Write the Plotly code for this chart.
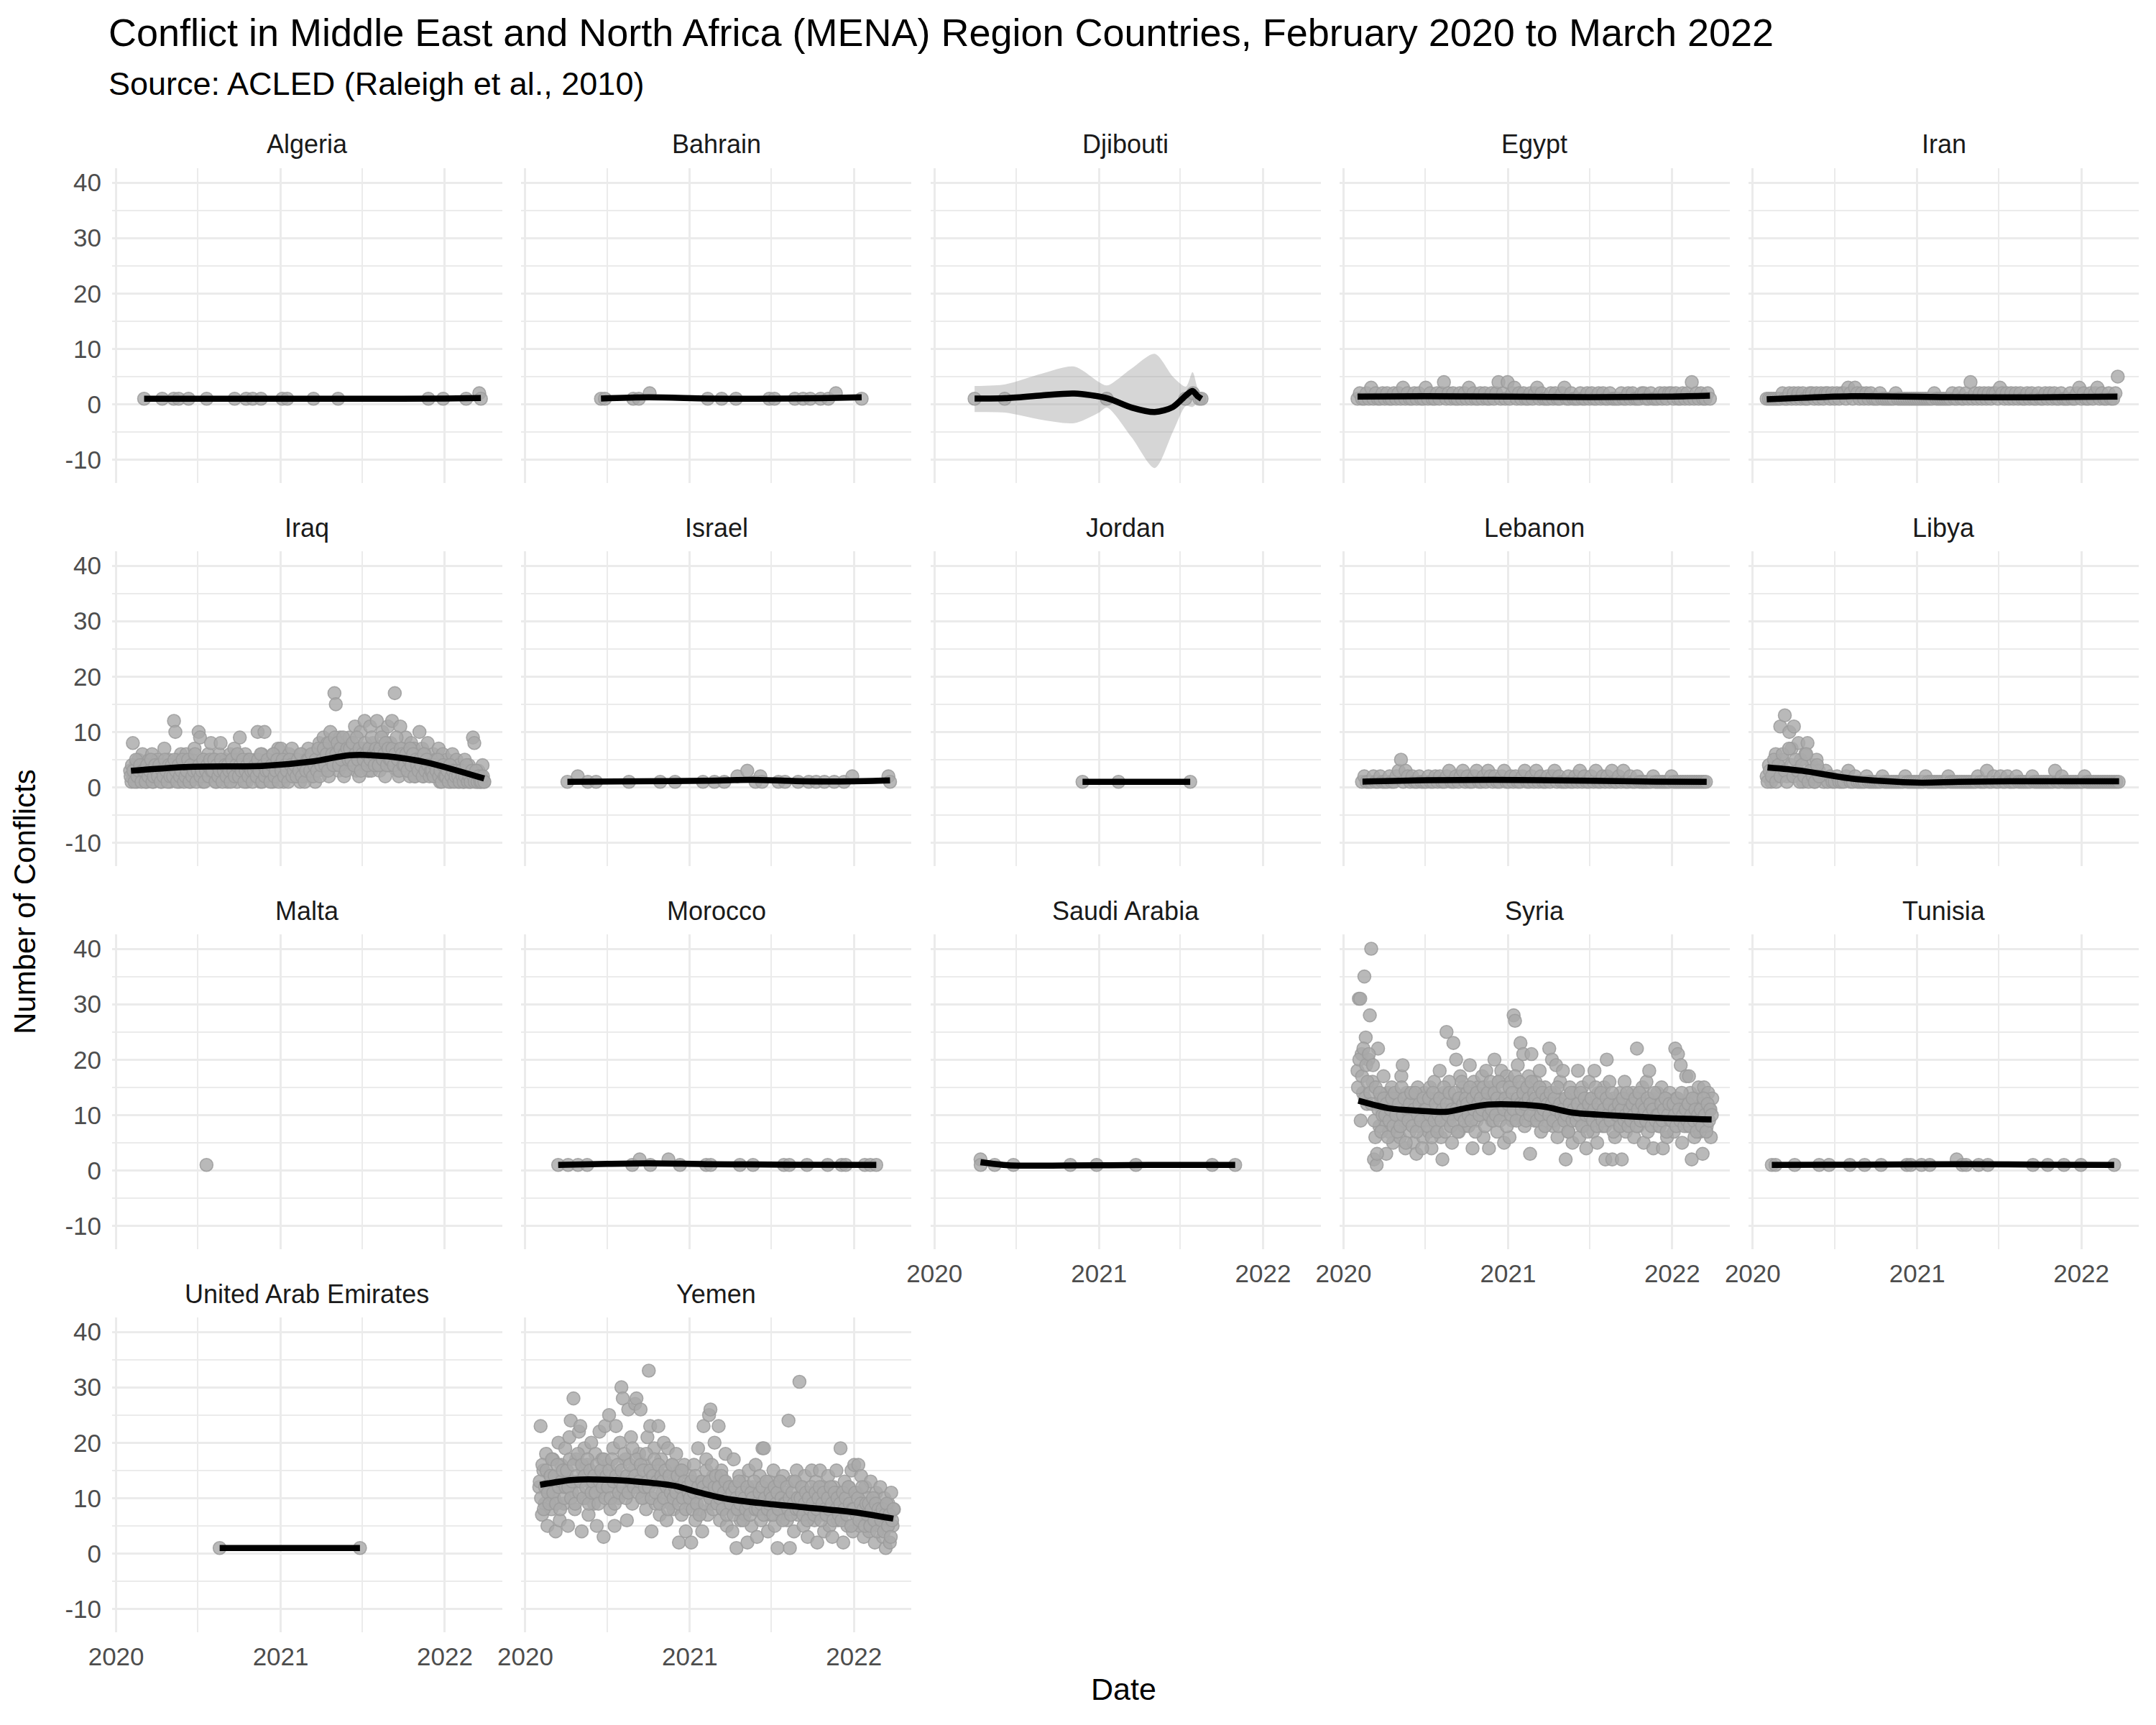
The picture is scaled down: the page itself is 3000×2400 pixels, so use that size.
import pandas as pd
import plotly.graph_objects as go

# ---------------------------------------------------------------- data
COUNTRIES = ["Algeria", "Bahrain", "Djibouti", "Egypt", "Iran", "Iraq", "Israel",
             "Jordan", "Lebanon", "Libya", "Malta", "Morocco", "Saudi Arabia",
             "Syria", "Tunisia", "United Arab Emirates", "Yemen"]

# sparse countries: event dates (decimal years) and daily counts
ALGERIA_T = [2020.17, 2020.28, 2020.35, 2020.38, 2020.44, 2020.55, 2020.72, 2020.79, 2020.83,
             2020.88, 2021.01, 2021.04, 2021.20, 2021.35, 2021.90, 2021.99, 2022.13, 2022.21, 2022.22]
ALGERIA_N = [1, 1, 1, 1, 1, 1, 1, 1, 1, 1, 1, 1, 1, 1, 1, 1, 1, 2, 1]

BAHRAIN_T = [2020.46, 2020.484, 2020.656, 2020.69, 2020.756, 2021.109, 2021.194, 2021.281, 2021.484,
             2021.516, 2021.64, 2021.69, 2021.734, 2021.797, 2021.844, 2021.89, 2022.047]
BAHRAIN_N = [1, 1, 1, 1, 2, 1, 1, 1, 1, 1, 1, 1, 1, 1, 1, 2, 1]

DJIBOUTI_T = [2020.244, 2020.427, 2021.047, 2021.526, 2021.573, 2021.612, 2021.625]
DJIBOUTI_N = [1, 1, 1, 1, 2, 1, 1]

ISRAEL_T = [2020.256, 2020.319, 2020.38, 2020.43, 2020.63, 2020.82, 2020.91, 2021.08, 2021.15,
            2021.21, 2021.29, 2021.35, 2021.40, 2021.43, 2021.44, 2021.54, 2021.58, 2021.66,
            2021.725, 2021.77, 2021.82, 2021.88, 2021.94, 2021.99, 2022.21, 2022.22]
ISRAEL_N = [1, 2, 1, 1, 1, 1, 1, 1, 1, 1, 2, 3, 1, 2, 1, 1, 1, 1, 1, 1, 1, 1, 1, 2, 2, 1]

JORDAN_T = [2020.90, 2021.119, 2021.556]
JORDAN_N = [1, 1, 1]

MALTA_T = [2020.549]
MALTA_N = [1]

MOROCCO_T = [2020.20, 2020.26, 2020.32, 2020.376, 2020.65, 2020.695, 2020.76, 2020.87, 2020.94,
             2021.10, 2021.127, 2021.305, 2021.385, 2021.573, 2021.606, 2021.714, 2021.84,
             2021.925, 2021.95, 2022.066, 2022.10, 2022.136]
MOROCCO_N = [1, 1, 1, 1, 1, 2, 1, 2, 1, 1, 1, 1, 1, 1, 1, 1, 1, 1, 1, 1, 1, 1]

SAUDI_T = [2020.28, 2020.281, 2020.366, 2020.48, 2020.826, 2020.986, 2021.225, 2021.69, 2021.83]
SAUDI_N = [2, 1, 1, 1, 1, 1, 1, 1, 1]

TUNISIA_T = [2020.116, 2020.139, 2020.255, 2020.404, 2020.464, 2020.59, 2020.68, 2020.78, 2020.937,
             2020.96, 2021.026, 2021.076, 2021.24, 2021.275, 2021.298, 2021.374, 2021.43, 2021.705,
             2021.795, 2021.894, 2021.997, 2022.20]
TUNISIA_N = [1, 1, 1, 1, 1, 1, 1, 1, 1, 1, 1, 1, 2, 1, 1, 1, 1, 1, 1, 1, 1, 1]

UAE_T = [2020.629, 2021.483]
UAE_N = [1, 1]

# dense countries: regularly sampled daily counts between a first and last date
EGYPT_SPAN = ["2020-02-01", "2022-03-26"]
EGYPT_N = [1, 2, 1, 1, 2, 1,  3, 1, 2, 1, 1, 2,  1, 2, 1, 1, 2, 1,  2, 1, 3, 1, 2, 1,
           1, 2, 1, 2, 1, 1,  3, 1, 2, 1, 1, 2,  1, 2, 4, 1, 2, 1,  2, 1, 1, 2, 1, 2,
           1, 3, 1, 2, 1, 1,  2, 1, 2, 1, 1, 2,  1, 2, 4, 1, 2, 1,  4, 1, 2, 3, 1, 2,
           1, 2, 1, 1, 2, 1,  2, 3, 1, 2, 1, 1,  1, 2, 1, 2, 1, 1,  2, 3, 1, 1, 2, 1,
           1, 1, 2, 1, 1, 2,  1, 2, 1, 1, 2, 1,  2, 1, 1, 2, 1, 1,  1, 1, 2, 1, 1, 2,
           1, 2, 1, 1, 1, 2,  2, 1, 1, 2, 1, 1,  1, 2, 1, 2, 1, 2,  2, 1, 2, 1, 1, 2,
           1, 2, 1, 4, 1, 2,  1, 2, 1, 1, 2, 1]

IRAN_SPAN = ["2020-02-01", "2022-03-23"]
IRAN_N = [1, 1, 1, 1, 1, 1,  1, 2, 1, 1, 2, 1,  2, 1, 2, 1, 2, 1,  1, 2, 2, 1, 2, 1,
          2, 1, 2, 2, 1, 2,  1, 2, 1, 2, 2, 1,  3, 2, 1, 3, 2, 1,  2, 1, 2, 1, 2, 1,
          1, 1, 2, 1, 1, 1,  1, 1, 1, 2, 1, 1,  1, 1, 1, 1, 1, 1,  1, 1, 1, 1, 1, 1,
          1, 1, 2, 1, 1, 1,  1, 1, 1, 1, 2, 1,  1, 2, 1, 1, 2, 1,  4, 1, 2, 1, 2, 1,
          2, 1, 2, 1, 2, 2,  1, 3, 2, 1, 2, 1,  2, 1, 2, 1, 2, 1,  1, 2, 1, 2, 1, 1,
          2, 1, 1, 2, 1, 2,  1, 2, 1, 1, 2, 1,  1, 1, 2, 1, 1, 2,  3, 1, 2, 1, 1, 2,
          1, 2, 3, 1, 2, 1,  1, 2, 1, 1, 2, 5]

LEBANON_SPAN = ["2020-02-11", "2022-03-17"]
LEBANON_N = [1, 2, 1, 1,  1, 2, 1, 1, 2, 1,  1, 1, 2, 1, 1, 2,  3, 5, 1, 3, 2, 1,
             2, 1, 1, 2, 1, 1,  1, 2, 1, 1, 2, 1,  2, 1, 1, 2, 3, 1,  1, 2, 1, 2, 3, 1,
             2, 1, 1, 2, 3, 1,  1, 2, 1, 3, 2, 1,  2, 1, 1, 2, 3, 1,  1, 2, 1, 2, 1, 1,
             2, 3, 1, 1, 2, 1,  3, 1, 2, 1, 1, 2,  1, 2, 3, 1, 2, 1,  1, 1, 2, 1, 1, 2,
             1, 3, 1, 2, 1, 1,  2, 1, 3, 1, 1, 2,  1, 2, 1, 3, 1, 1,  2, 1, 3, 1, 1, 2,
             1, 1, 2, 1, 1, 1,  1, 1, 1, 2, 1, 1,  1, 1, 1, 1, 1, 2,  1, 1, 1, 1, 1, 1,
             1, 1, 1, 1, 1, 1,  1, 1, 1]

LIBYA_SPAN = ["2020-02-01", "2022-03-25"]
LIBYA_N = [2, 4, 1, 3, 6, 2,  11, 5, 13, 2, 10, 7,  11, 3, 8, 5, 1, 6,  8, 2, 4, 1, 5, 3,
           2, 1, 3, 1, 2, 1,  1, 2, 1, 1, 1, 2,  3, 1, 1, 2, 1, 1,  1, 1, 2, 1, 1, 1,
           1, 1, 1, 2, 1, 1,  1, 1, 1, 1, 1, 1,  1, 2, 1, 1, 1, 1,  1, 1, 1, 1, 2, 1,
           1, 1, 1, 1, 1, 1,  1, 1, 2, 1, 1, 1,  1, 1, 1, 1, 1, 1,  1, 1, 1, 2, 1, 1,
           1, 3, 1, 1, 2, 1,  1, 2, 1, 1, 2, 1,  1, 1, 2, 1, 1, 1,  1, 1, 1, 2, 1, 1,
           1, 1, 1, 1, 1, 1,  1, 3, 1, 1, 2, 1,  1, 1, 1, 1, 1, 1,  1, 1, 2, 1, 1, 1,
           1, 1, 1, 1, 1, 1,  1, 1, 1, 1, 1, 1]
LIBYA_B_SPAN = ["2020-02-03", "2020-05-28"]
LIBYA_B_N = [1, 3, 2, 5, 1, 4, 2, 6, 3, 1, 7, 4, 2, 5, 3, 1, 4, 2, 6, 1, 3, 2, 1, 4, 2]

IRAQ_SPAN = ["2020-02-01", "2022-03-29"]
IRAQ_N = [3, 1, 8, 2, 4, 1, 5, 2, 3, 6,   2, 4, 1, 3, 5, 2, 6, 1, 3, 4,
          5, 2, 3, 1, 4, 7, 2, 3, 5, 1,   3, 4, 12, 10, 2, 5, 1, 6, 3, 2,
          3, 6, 2, 4, 1, 5, 3, 7, 2, 4,   10, 9, 3, 1, 5, 2, 4, 6, 3, 8,
          4, 2, 5, 1, 3, 6, 8, 2, 4, 3,   5, 1, 3, 6, 2, 4, 7, 3, 1, 5,
          9, 2, 4, 3, 6, 1, 5, 2, 4, 3,   3, 5, 2, 10, 4, 1, 6, 3, 10, 2,
          4, 2, 5, 3, 1, 6, 4, 2, 7, 3,   7, 3, 1, 5, 2, 4, 6, 3, 7, 2,
          3, 5, 2, 4, 1, 6, 3, 2, 5, 4,   7, 2, 4, 3, 6, 1, 5, 3, 8, 4,
          6, 9, 3, 5, 8, 2, 10, 7, 4, 17, 15, 6, 3, 9, 4, 8, 2, 5, 7, 5,
          9, 5, 4, 7, 11, 3, 6, 2, 10, 5, 7, 12, 4, 6, 3, 11, 3, 8, 5, 4,
          12, 6, 3, 4, 10, 5, 2, 8, 11, 4, 8, 12, 4, 17, 6, 3, 2, 11, 5, 7,
          6, 9, 3, 5, 2, 8, 4, 7, 2, 6,   5, 10, 3, 7, 2, 6, 4, 8, 3, 5,
          4, 6, 2, 5, 3, 7, 1, 4, 6, 3,   3, 5, 2, 4, 1, 6, 3, 2, 5, 1,
          4, 2, 3, 1, 5, 2, 3, 4, 1, 2,   9, 8, 2, 1, 3, 1, 2, 4, 1]
IRAQ_B_SPAN = ["2020-02-02", "2022-03-30"]
IRAQ_B_N = [2, 4, 3, 1, 5, 2, 3, 4, 1, 3,   3, 1, 4, 2, 3, 5, 1, 2, 4, 3,
            2, 4, 1, 3, 2, 5, 3, 1, 4, 2,   4, 2, 5, 3, 1, 4, 2, 3, 5, 1,
            2, 3, 5, 1, 4, 2, 3, 6, 1, 3,   4, 2, 3, 5, 1, 3, 4, 2, 5, 3,
            3, 5, 1, 4, 2, 3, 5, 1, 3, 4,   2, 4, 3, 1, 5, 3, 2, 4, 6, 2,
            4, 3, 5, 1, 3, 4, 2, 5, 3, 1,   3, 4, 2, 5, 3, 6, 1, 4, 2, 3,
            5, 3, 1, 4, 6, 2, 3, 5, 1, 4,   3, 5, 2, 4, 3, 1, 5, 4, 2, 3,
            4, 2, 5, 3, 6, 2, 4, 1, 3, 5,   5, 3, 6, 2, 4, 5, 3, 7, 2, 4,
            5, 7, 4, 6, 3, 8, 5, 6, 4, 9,   6, 8, 4, 7, 5, 9, 6, 3, 7, 5,
            7, 5, 8, 4, 6, 9, 5, 7, 3, 6,   5, 8, 6, 4, 7, 5, 9, 6, 4, 7,
            6, 4, 7, 9, 5, 6, 8, 4, 7, 5,   5, 7, 4, 6, 9, 5, 3, 7, 6, 4,
            4, 6, 3, 5, 7, 4, 6, 2, 5, 4,   3, 5, 4, 2, 6, 3, 5, 4, 2, 3,
            3, 2, 4, 3, 5, 2, 3, 1, 4, 2,   2, 3, 1, 4, 2, 3, 1, 2, 3, 2,
            1, 3, 2, 1, 2, 4, 1, 2, 1, 3,   2, 1, 3, 1, 2, 1, 1, 2, 1]

SYRIA_SPAN = ["2020-02-01", "2022-03-31"]
SYRIA_N = [18, 31, 31, 21, 14, 35, 24, 12, 20, 28,   40, 16, 2, 6, 1, 22, 8, 13, 11, 17,
           9, 3, 14, 7, 12, 15, 5, 10, 13, 8,        11, 6, 17, 19, 9, 4, 14, 12, 7, 10,
           13, 5, 11, 3, 15, 8, 10, 12, 6, 14,       9, 12, 7, 15, 4, 11, 16, 8, 13, 10,
           18, 6, 2, 14, 11, 25, 9, 16, 12, 5,       23, 10, 20, 13, 7, 17, 11, 15, 8, 12,
           14, 8, 19, 11, 4, 16, 12, 9, 15, 13,      10, 17, 6, 13, 18, 11, 4, 15, 9, 14,
           20, 12, 7, 16, 10, 18, 13, 5, 11, 17,     13, 6, 16, 9, 28, 27, 12, 19, 10, 23,
           15, 21, 8, 14, 11, 17, 3, 21, 12, 9,      16, 10, 13, 18, 7, 14, 11, 15, 9, 12,
           22, 11, 20, 8, 14, 19, 6, 12, 16, 10,     18, 9, 2, 13, 7, 15, 11, 5, 14, 10,
           12, 18, 6, 11, 15, 8, 13, 4, 10, 16,      9, 13, 7, 18, 11, 5, 14, 10, 12, 8,
           15, 2, 20, 9, 16, 11, 2, 13, 6, 10,       12, 8, 14, 2, 10, 16, 7, 11, 9, 13,
           10, 14, 6, 11, 22, 8, 13, 9, 15, 5,       12, 16, 7, 18, 10, 13, 4, 11, 9, 14,
           8, 12, 15, 4, 10, 13, 6, 11, 14, 9,       11, 7, 22, 13, 21, 9, 19, 5, 12, 10,
           17, 8, 17, 14, 2, 11, 6, 13, 9, 15,       7, 12, 3, 15, 10, 8, 14, 11, 6, 13]
SYRIA_B_SPAN = ["2020-02-02", "2022-03-30"]
SYRIA_B_N = [15, 20, 9, 17, 22, 13, 19, 16, 21, 14,   12, 19, 9, 15, 3, 11, 14, 7, 10, 13,
             10, 12, 6, 9, 11, 13, 8, 14, 10, 7,      12, 8, 15, 10, 13, 5, 11, 9, 12, 14,
             8, 11, 14, 7, 10, 12, 9, 4, 13, 11,      11, 8, 13, 10, 6, 14, 9, 12, 7, 10,
             13, 9, 11, 15, 7, 12, 10, 14, 8, 11,     9, 14, 11, 7, 13, 10, 16, 12, 9, 13,
             12, 10, 15, 9, 13, 11, 7, 14, 12, 10,    13, 11, 15, 8, 12, 14, 10, 16, 11, 9,
             14, 10, 13, 16, 9, 12, 15, 11, 13, 8,    12, 15, 10, 14, 11, 17, 9, 13, 16, 12,
             11, 14, 12, 9, 15, 13, 10, 16, 12, 14,   13, 9, 12, 15, 10, 14, 11, 8, 13, 12,
             10, 14, 12, 9, 13, 11, 15, 8, 12, 10,    11, 9, 13, 10, 7, 12, 14, 9, 11, 10,
             9, 12, 10, 14, 8, 11, 13, 10, 7, 12,     10, 13, 9, 11, 15, 8, 12, 10, 14, 9,
             11, 8, 13, 10, 12, 9, 14, 7, 11, 10,     10, 12, 8, 11, 13, 9, 10, 14, 8, 11,
             9, 12, 10, 13, 8, 11, 14, 9, 12, 10,     11, 9, 13, 10, 12, 8, 11, 14, 9, 10,
             10, 8, 12, 9, 11, 13, 7, 10, 12, 9,      9, 12, 10, 8, 13, 11, 9, 14, 10, 8,
             11, 9, 12, 8, 10, 13, 9, 11, 7, 10,      9, 11, 8, 13, 10, 7, 12, 9, 11, 10]

YEMEN_SPAN = ["2020-02-01", "2022-03-31"]
YEMEN_N = [12, 23, 7, 15, 9, 18, 5, 11, 14, 8,      17, 10, 4, 13, 20, 6, 16, 12, 9, 19,
           14, 5, 21, 24, 11, 28, 8, 17, 13, 22,     23, 4, 15, 19, 10, 16, 7, 13, 20, 12,
           9, 18, 5, 14, 22, 11, 17, 3, 23, 13,      16, 25, 8, 12, 19, 5, 23, 14, 10, 20,
           30, 28, 11, 17, 6, 26, 13, 21, 9, 15,     27, 28, 12, 18, 26, 14, 10, 16, 8, 21,
           33, 23, 4, 13, 19, 9, 15, 23, 7, 17,      11, 20, 14, 6, 19, 12, 9, 16, 8, 13,
           18, 10, 2, 15, 7, 12, 16, 4, 11, 9,       14, 2, 10, 16, 6, 12, 19, 8, 13, 4,
           23, 11, 17, 7, 25, 26, 9, 14, 20, 12,     10, 23, 6, 15, 8, 13, 18, 5, 11, 9,
           12, 4, 17, 8, 1, 10, 14, 6, 9, 13,        7, 11, 2, 15, 9, 5, 12, 8, 16, 3,
           10, 14, 6, 19, 19, 8, 11, 4, 13, 7,       9, 15, 5, 12, 1, 10, 13, 7, 14, 8,
           11, 6, 24, 1, 9, 13, 4, 10, 15, 7,        31, 8, 12, 5, 14, 9, 3, 11, 7, 15,
           10, 6, 13, 2, 9, 15, 7, 12, 4, 11,        8, 14, 5, 10, 3, 12, 9, 15, 6, 11,
           19, 7, 2, 13, 9, 5, 12, 8, 15, 4,         16, 8, 11, 16, 5, 14, 9, 3, 12, 7,
           10, 4, 13, 6, 9, 2, 11, 8, 5, 12,         7, 3, 10, 1, 6, 9, 2, 11, 5, 8]
YEMEN_B_SPAN = ["2020-02-02", "2022-03-30"]
YEMEN_B_N = [13, 10, 16, 8, 12, 15, 11, 9, 14, 17,   11, 14, 9, 16, 12, 8, 13, 15, 10, 12,
             15, 12, 17, 10, 13, 16, 9, 14, 18, 11,  13, 16, 10, 14, 12, 17, 9, 15, 11, 13,
             14, 11, 16, 9, 13, 15, 12, 17, 10, 14,  12, 15, 10, 17, 13, 9, 14, 16, 11, 13,
             15, 12, 18, 10, 14, 11, 16, 13, 19, 12,  14, 17, 11, 13, 16, 10, 15, 12, 18, 13,
             12, 15, 10, 14, 17, 11, 13, 16, 9, 14,  13, 10, 15, 12, 8, 14, 11, 16, 10, 12,
             11, 14, 9, 12, 15, 10, 13, 8, 12, 11,   10, 13, 8, 11, 14, 9, 12, 7, 11, 13,
             12, 9, 15, 11, 13, 10, 16, 8, 12, 14,   9, 12, 10, 14, 8, 11, 13, 7, 10, 12,
             9, 11, 7, 12, 10, 8, 13, 9, 11, 6,      10, 8, 12, 9, 7, 11, 10, 13, 8, 9,
             8, 11, 9, 12, 7, 10, 13, 8, 9, 11,      10, 7, 12, 9, 11, 8, 13, 10, 6, 9,
             9, 12, 8, 10, 7, 11, 9, 13, 8, 10,      8, 10, 12, 7, 9, 11, 6, 10, 8, 12,
             9, 7, 11, 8, 10, 12, 6, 9, 11, 8,       7, 10, 8, 12, 9, 6, 11, 8, 10, 7,
             9, 6, 11, 8, 10, 7, 12, 9, 5, 8,        8, 11, 7, 10, 6, 9, 12, 8, 5, 9,
             7, 9, 5, 8, 10, 6, 9, 4, 8, 7,          6, 8, 4, 7, 9, 5, 7, 3, 6, 8]

# loess smooth (decimal years, fitted values)
SMOOTH_T = {
    "Algeria": [2020.17, 2020.6, 2021.0, 2021.5, 2022.0, 2022.22],
    "Bahrain": [2020.46, 2020.75, 2021.1, 2021.4, 2021.8, 2022.047],
    "Djibouti": [2020.244, 2020.43, 2020.65, 2020.85, 2021.05, 2021.2, 2021.34, 2021.45,
                 2021.53, 2021.57, 2021.60, 2021.625],
    "Egypt": [2020.085, 2020.5, 2021.0, 2021.5, 2022.0, 2022.23],
    "Iran": [2020.085, 2020.6, 2021.2, 2021.7, 2022.22],
    "Iraq": [2020.09, 2020.44, 2020.9, 2021.2, 2021.42, 2021.65, 2021.89, 2022.24],
    "Israel": [2020.256, 2020.7, 2021.1, 2021.38, 2021.7, 2022.0, 2022.22],
    "Jordan": [2020.90, 2021.2, 2021.556],
    "Lebanon": [2020.115, 2020.5, 2020.9, 2021.5, 2021.9, 2022.21],
    "Libya": [2020.09, 2020.3, 2020.6, 2021.0, 2021.25, 2021.6, 2022.23],
    "Morocco": [2020.20, 2020.5, 2020.75, 2021.1, 2021.6, 2022.136],
    "Saudi Arabia": [2020.28, 2020.45, 2020.8, 2021.3, 2021.83],
    "Syria": [2020.09, 2020.28, 2020.45, 2020.63, 2020.75, 2020.88, 2021.06, 2021.22,
              2021.40, 2021.60, 2021.91, 2022.24],
    "Tunisia": [2020.116, 2020.6, 2021.3, 2021.8, 2022.20],
    "United Arab Emirates": [2020.629, 2021.483],
    "Yemen": [2020.09, 2020.29, 2020.52, 2020.75, 2020.91, 2021.06, 2021.22, 2021.45,
              2021.68, 2021.99, 2022.24],
}
SMOOTH_Y = {
    "Algeria": [1.0, 1.0, 1.0, 1.0, 1.05, 1.15],
    "Bahrain": [1.05, 1.25, 1.05, 1.0, 1.1, 1.25],
    "Djibouti": [1.05, 1.1, 1.6, 1.95, 1.1, -0.6, -1.4, -0.5, 1.6, 2.4, 1.5, 1.0],
    "Egypt": [1.4, 1.45, 1.4, 1.3, 1.4, 1.55],
    "Iran": [0.9, 1.45, 1.3, 1.25, 1.4],
    "Iraq": [3.0, 3.7, 3.9, 4.7, 5.8, 5.6, 4.5, 1.6],
    "Israel": [1.0, 1.1, 1.2, 1.35, 1.1, 1.1, 1.25],
    "Jordan": [1.0, 1.0, 1.0],
    "Lebanon": [1.05, 1.3, 1.35, 1.2, 1.05, 1.0],
    "Libya": [3.6, 3.0, 1.6, 0.86, 1.0, 1.1, 1.1],
    "Morocco": [1.0, 1.2, 1.3, 1.15, 1.05, 1.0],
    "Saudi Arabia": [1.5, 0.95, 0.9, 1.0, 1.0],
    "Syria": [12.6, 11.2, 10.8, 10.6, 11.3, 11.9, 11.9, 11.5, 10.4, 10.0, 9.5, 9.2],
    "Tunisia": [1.0, 1.05, 1.15, 1.05, 1.0],
    "United Arab Emirates": [1.0, 1.0],
    "Yemen": [12.4, 13.3, 13.3, 12.8, 12.2, 11.0, 9.9, 9.05, 8.4, 7.5, 6.3],
}
# confidence band (only visible for Djibouti)
DJIBOUTI_BAND_T = [2020.244, 2020.43, 2020.65, 2020.85, 2021.0, 2021.05, 2021.2, 2021.34,
                   2021.45, 2021.53, 2021.57, 2021.60, 2021.625]
DJIBOUTI_BAND_HI = [3.3, 3.6, 5.5, 6.8, 4.0, 3.4, 6.5, 9.1, 5.0, 3.2, 5.8, 3.0, 1.4]
DJIBOUTI_BAND_LO = [-1.4, -1.5, -2.8, -3.4, -1.5, -0.6, -6.0, -11.5, -5.0, -0.3, -0.5, 0.3, 0.6]

TITLE = "Conflict in Middle East and North Africa (MENA) Region Countries, February 2020 to March 2022"
SUBTITLE = "Source: ACLED (Raleigh et al., 2010)"
X_TITLE = "Date"
Y_TITLE = "Number of Conflicts"
X_RANGE = ["2019-12-23", "2022-05-09"]
Y_RANGE = [-14.2, 42.6]
Y_TICKS = [-10, 0, 10, 20, 30, 40]
Y_TICK_TEXT = ["-10", "0", "10", "20", "30", "40"]


def yd(f):
    y = int(f)
    start = pd.Timestamp(y, 1, 1)
    ndays = (pd.Timestamp(y + 1, 1, 1) - start).days
    return start + pd.Timedelta(days=(f - y) * ndays)


def span_dates(span, n):
    return list(pd.date_range(span[0], span[1], periods=n))


def dense(*pairs):
    xs, ys = [], []
    for span, vals in pairs:
        xs += span_dates(span, len(vals))
        ys += list(vals)
    return xs, ys


POINTS = {
    "Algeria": ([yd(t) for t in ALGERIA_T], ALGERIA_N),
    "Bahrain": ([yd(t) for t in BAHRAIN_T], BAHRAIN_N),
    "Djibouti": ([yd(t) for t in DJIBOUTI_T], DJIBOUTI_N),
    "Egypt": dense((EGYPT_SPAN, EGYPT_N)),
    "Iran": dense((IRAN_SPAN, IRAN_N)),
    "Iraq": dense((IRAQ_SPAN, IRAQ_N), (IRAQ_B_SPAN, IRAQ_B_N)),
    "Israel": ([yd(t) for t in ISRAEL_T], ISRAEL_N),
    "Jordan": ([yd(t) for t in JORDAN_T], JORDAN_N),
    "Lebanon": dense((LEBANON_SPAN, LEBANON_N)),
    "Libya": dense((LIBYA_SPAN, LIBYA_N), (LIBYA_B_SPAN, LIBYA_B_N)),
    "Malta": ([yd(t) for t in MALTA_T], MALTA_N),
    "Morocco": ([yd(t) for t in MOROCCO_T], MOROCCO_N),
    "Saudi Arabia": ([yd(t) for t in SAUDI_T], SAUDI_N),
    "Syria": dense((SYRIA_SPAN, SYRIA_N), (SYRIA_B_SPAN, SYRIA_B_N)),
    "Tunisia": ([yd(t) for t in TUNISIA_T], TUNISIA_N),
    "United Arab Emirates": ([yd(t) for t in UAE_T], UAE_N),
    "Yemen": dense((YEMEN_SPAN, YEMEN_N), (YEMEN_B_SPAN, YEMEN_B_N)),
}

# ---------------------------------------------------------------- layout
W, H = 3000, 2400
PL, PW, PSTEP = 156, 543, 569.3
PT, PH, RSTEP = 234, 438, 533
NCOL = 5
FONT = "Liberation Sans, Arial, Helvetica, sans-serif"
GRID = "#EBEBEB"
TICKC = "#4D4D4D"

fig = go.Figure()
layout = dict(
    template="none",
    width=W, height=H, margin=dict(l=0, r=0, t=0, b=0, autoexpand=False),
    paper_bgcolor="white", plot_bgcolor="white", showlegend=False,
    font=dict(family=FONT, color="black"),
)
annotations = []

last_row_for_col = {}
for i in range(len(COUNTRIES)):
    last_row_for_col[i % NCOL] = i // NCOL

for i, name in enumerate(COUNTRIES):
    r, c = divmod(i, NCOL)
    left = PL + c * PSTEP
    top = PT + r * RSTEP
    xdom = [left / W, (left + PW) / W]
    ydom = [1 - (top + PH) / H, 1 - top / H]
    xn = "x" if i == 0 else f"x{i + 1}"
    yn = "y" if i == 0 else f"y{i + 1}"
    xk = "xaxis" if i == 0 else f"xaxis{i + 1}"
    yk = "yaxis" if i == 0 else f"yaxis{i + 1}"
    layout[xk] = dict(
        domain=xdom, anchor=yn, type="date", range=X_RANGE, automargin=False,
        tick0="2020-01-01", dtick="M12", tickformat="%Y",
        showgrid=True, gridcolor=GRID, gridwidth=3.4,
        minor=dict(tick0="2020-01-01", dtick="M6", showgrid=True, gridcolor=GRID, gridwidth=1.7),
        zeroline=False, showline=False, ticks="",
        showticklabels=(last_row_for_col[c] == r),
        tickfont=dict(size=35, color=TICKC, family=FONT),
        ticklabelstandoff=10,
    )
    layout[yk] = dict(
        domain=ydom, anchor=xn, range=Y_RANGE, automargin=False,
        tickmode="array", tickvals=Y_TICKS, ticktext=Y_TICK_TEXT,
        showgrid=True, gridcolor=GRID, gridwidth=3.4,
        minor=dict(tick0=-15, dtick=10, showgrid=True, gridcolor=GRID, gridwidth=1.7),
        zeroline=False, showline=False, ticks="",
        showticklabels=(c == 0),
        tickfont=dict(size=35, color=TICKC, family=FONT),
        ticklabelstandoff=14,
    )
    annotations.append(dict(
        text=name, xref="paper", yref="paper",
        x=(left + PW / 2) / W, y=1 - (top - 33) / H,
        xanchor="center", yanchor="middle", showarrow=False,
        font=dict(size=36, color="#1A1A1A", family=FONT),
    ))

    if name == "Djibouti":
        bx = [yd(t) for t in DJIBOUTI_BAND_T] + [yd(t) for t in DJIBOUTI_BAND_T[::-1]]
        by = DJIBOUTI_BAND_HI + DJIBOUTI_BAND_LO[::-1]
        fig.add_trace(go.Scatter(
            x=bx, y=by, mode="lines", fill="toself",
            fillcolor="rgba(153,153,153,0.4)", line=dict(width=0, shape="spline", smoothing=0.8),
            xaxis=xn, yaxis=yn, hoverinfo="skip"))

    px, py = POINTS[name]
    fig.add_trace(go.Scatter(
        x=px, y=py, mode="markers",
        marker=dict(size=18, color="rgba(169,169,169,0.82)",
                    line=dict(color="rgba(155,155,155,0.85)", width=1.6)),
        xaxis=xn, yaxis=yn, hoverinfo="skip"))

    if name in SMOOTH_T:
        fig.add_trace(go.Scatter(
            x=[yd(t) for t in SMOOTH_T[name]], y=SMOOTH_Y[name], mode="lines",
            line=dict(color="black", width=8.5, shape="spline", smoothing=0.8),
            xaxis=xn, yaxis=yn, hoverinfo="skip"))

annotations += [
    dict(text=TITLE, xref="paper", yref="paper", x=149 / W, y=1 - 45 / H,
         xanchor="left", yanchor="middle", showarrow=False,
         font=dict(size=54, color="black", family=FONT)),
    dict(text=SUBTITLE, xref="paper", yref="paper", x=149 / W, y=1 - 116 / H,
         xanchor="left", yanchor="middle", showarrow=False,
         font=dict(size=45, color="black", family=FONT)),
    dict(text=X_TITLE, xref="paper", yref="paper", x=1563 / W, y=1 - 2350 / H,
         xanchor="center", yanchor="middle", showarrow=False,
         font=dict(size=43, color="black", family=FONT)),
    dict(text=Y_TITLE, xref="paper", yref="paper", x=34 / W, y=1 - 1255 / H,
         xanchor="center", yanchor="middle", showarrow=False, textangle=-90,
         font=dict(size=42, color="black", family=FONT)),
]
layout["annotations"] = annotations
fig.update_layout(**layout)
fig.write_html("out.html")
